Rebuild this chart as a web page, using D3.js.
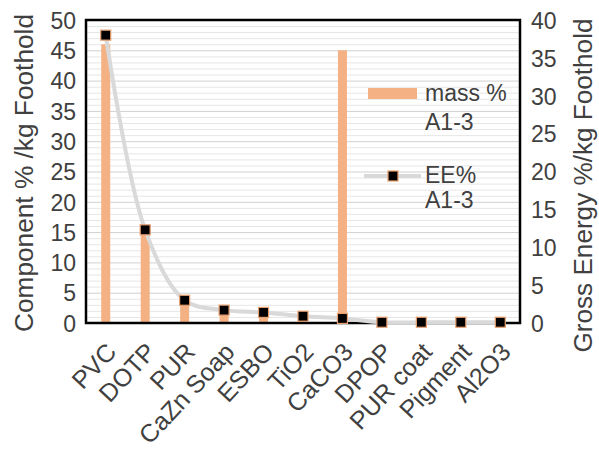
<!DOCTYPE html>
<html><head><meta charset="utf-8">
<script src="https://cdn.jsdelivr.net/npm/d3@7/dist/d3.min.js"></script>
<style>html,body{margin:0;padding:0;background:#fff;}svg{display:block;}</style>
</head><body>
<svg id="chart" width="599" height="449"></svg>
<script>
const categories = ["PVC","DOTP","PUR","CaZn Soap","ESBO","TiO2","CaCO3","DPOP","PUR coat","Pigment","Al2O3"];
const massPct = [46, 15, 3.5, 1.5, 1.3, 0.5, 45, 0.3, 0.2, 0.2, 0.1];
const eePct = [38, 12.3, 3.0, 1.7, 1.4, 0.9, 0.6, 0.1, 0.1, 0.1, 0.1];
const leftTicks = [0,5,10,15,20,25,30,35,40,45,50];
const rightTicks = [0,5,10,15,20,25,30,35,40];
const minorTicks = d3.range(0, 51, 1);
const leftTitle = "Component % /kg Foothold";
const rightTitle = "Gross Energy %/kg Foothold";
const legendMass = ["mass %","A1-3"];
const legendEE = ["EE%","A1-3"];

const svg = d3.select("#chart");
const font = "'Liberation Sans', Arial, sans-serif";
const txt = "#404040";
const L = 86, R = 520, T = 20, B = 323;
const x = d3.scaleBand().domain(categories).range([L, R]).padding(0);
const yL = d3.scaleLinear().domain([0, 50]).range([B, T]);
const yR = d3.scaleLinear().domain([0, 40]).range([B, T]);
const orange = "#F4B183", grey = "#D9D9D9";

// gridlines
svg.append("g").selectAll("line").data(minorTicks).join("line")
  .attr("x1", L).attr("x2", R).attr("y1", d => yL(d)+0.5).attr("y2", d => yL(d)+0.5)
  .attr("stroke", d => d % 5 === 0 ? "#d0d0d0" : "#e6e6e6").attr("stroke-width", 1);

// bars
const bw = 9;
svg.append("g").selectAll("rect").data(categories).join("rect")
  .attr("x", d => x(d) + x.bandwidth()/2 - bw/2)
  .attr("width", bw)
  .attr("y", (d,i) => yL(massPct[i]))
  .attr("height", (d,i) => yL(0) - yL(massPct[i]))
  .attr("fill", orange);

// plot border
svg.append("rect").attr("x", L).attr("y", T).attr("width", R-L).attr("height", B-T)
  .attr("fill", "none").attr("stroke", "#000").attr("stroke-width", 2.5);

// EE line
const pts = categories.map((c,i) => [x(c)+x.bandwidth()/2, yR(eePct[i])]);
svg.append("path").attr("d", d3.line().curve(d3.curveCatmullRom.alpha(0.5))(pts))
  .attr("fill","none").attr("stroke", grey).attr("stroke-width", 4);
const ms = 10;
svg.append("g").selectAll("rect").data(pts).join("rect")
  .attr("x", d => d[0]-ms/2).attr("y", d => d[1]-ms/2).attr("width", ms).attr("height", ms)
  .attr("fill", "#000").attr("stroke", "#E9A071").attr("stroke-width", 1.2);

// left axis labels
const axL = d3.axisLeft(yL).tickValues(leftTicks).tickSize(0).tickPadding(10);
const gL = svg.append("g").attr("transform", `translate(${L},0)`).call(axL);
gL.select(".domain").remove();
gL.selectAll("text").attr("font-family", font).attr("font-size", 23).attr("fill", txt).attr("dy","0.36em");

const axR = d3.axisRight(yR).tickValues(rightTicks).tickSize(0).tickPadding(11);
const gR = svg.append("g").attr("transform", `translate(${R},0)`).call(axR);
gR.select(".domain").remove();
gR.selectAll("text").attr("font-family", font).attr("font-size", 23).attr("fill", txt).attr("dy","0.36em");

// x labels
const axX = d3.axisBottom(x).tickSize(0).tickPadding(0);
const gX = svg.append("g").attr("transform", `translate(0,${B})`).call(axX);
gX.select(".domain").remove();
gX.selectAll(".tick text")
  .attr("font-family", font).attr("font-size", 25).attr("fill", txt)
  .attr("text-anchor","end").attr("dy", 0).attr("y", 0)
  .attr("transform", "translate(12,30) rotate(-47)");

// titles
svg.append("text").attr("transform", `translate(33,${(13+333)/2}) rotate(-90)`)
  .attr("text-anchor","middle").attr("font-family", font).attr("font-size", 26).attr("fill", txt)
  .attr("textLength", 318).attr("lengthAdjust","spacingAndGlyphs").text(leftTitle);
svg.append("text").attr("transform", `translate(592,${(18+353)/2}) rotate(-90)`)
  .attr("text-anchor","middle").attr("font-family", font).attr("font-size", 26).attr("fill", txt)
  .attr("textLength", 334).attr("lengthAdjust","spacingAndGlyphs").text(rightTitle);

// legend
svg.append("rect").attr("x", 368).attr("y", 88).attr("width", 49).attr("height", 11).attr("fill", orange);
svg.append("text").attr("x", 425).attr("y", 101).attr("font-family", font).attr("font-size", 23).attr("fill", txt).text(legendMass[0]);
svg.append("text").attr("x", 425).attr("y", 130).attr("font-family", font).attr("font-size", 23).attr("fill", txt).text(legendMass[1]);
svg.append("line").attr("x1", 364).attr("x2", 421).attr("y1", 176).attr("y2", 176).attr("stroke", grey).attr("stroke-width", 4);
svg.append("rect").attr("x", 393-ms/2).attr("y", 176-ms/2).attr("width", ms).attr("height", ms)
  .attr("fill", "#000").attr("stroke", "#E9A071").attr("stroke-width", 1.2);
svg.append("text").attr("x", 425).attr("y", 183).attr("font-family", font).attr("font-size", 23).attr("fill", txt).text(legendEE[0]);
svg.append("text").attr("x", 425).attr("y", 208).attr("font-family", font).attr("font-size", 23).attr("fill", txt).text(legendEE[1]);
</script>
</body></html>
